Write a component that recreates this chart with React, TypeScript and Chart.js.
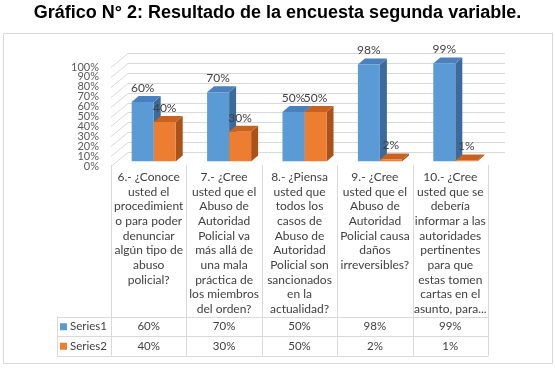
import React, { useEffect, useRef } from "react";
import { Chart, registerables } from "chart.js";

Chart.register(...registerables);

// Survey questions, already broken into the lines they are printed on
const categories: string[][] = [
  ["6.- ¿Conoce", "usted el", "procedimient", "o para poder", "denunciar", "algún tipo de", "abuso", "policial?"],
  ["7.- ¿Cree", "usted que el", "Abuso de", "Autoridad", "Policial va", "más allá de", "una mala", "práctica de", "los miembros", "del orden?"],
  ["8.- ¿Piensa", "usted que", "todos los", "casos de", "Abuso de", "Autoridad", "Policial son", "sancionados", "en la", "actualidad?"],
  ["9.- ¿Cree", "usted que el", "Abuso de", "Autoridad", "Policial causa", "daños", "irreversibles?"],
  ["10.- ¿Cree", "usted que se", "debería", "informar a las", "autoridades", "pertinentes", "para que", "estas tomen", "cartas en el", "asunto, para..."],
];

const series1: number[] = [60, 70, 50, 98, 99];
const series2: number[] = [40, 30, 50, 2, 1];
const seriesNames: string[] = ["Series1", "Series2"];
const yTicks: number[] = [0, 10, 20, 30, 40, 50, 60, 70, 80, 90, 100];

const titleText = "Gráfico N° 2: Resultado de la encuesta segunda variable.";

const FRONT = ["#5B9BD5", "#ED7D31"];
const TOP = ["#4A80BD", "#C9621F"];
const SIDE = ["#3B6A9C", "#AB521B"];

const GRID = "#D9D9D9";
const TEXT = "#404040";
const FONT = "Lato, 'Open Sans', sans-serif";

// 3D geometry: wall depth, where the bars sit inside it, and bar depth
const WALL = { dx: 17, dy: -14 };
const SHIFT = { dx: 5, dy: -4.5 };
const BAR = { dx: 7, dy: -6 };

// Table / label area
const TABLE_LEFT = 57;
const TABLE_TOP = 316.5;
const ROW_H = 19.5;
const CAT_TEXT_TOP = 177;
const CAT_LINE_H = 14.7;

function pct(v: number) {
  return `${v}%`;
}

const bar3d = {
  id: "bar3d",
  beforeDraw(chart: any) {
    const { ctx } = chart;
    ctx.save();
    ctx.fillStyle = "#FFFFFF";
    ctx.fillRect(0, 0, chart.width, chart.height);
    // title
    ctx.fillStyle = "#000000";
    ctx.font = `bold 18px 'Liberation Sans', Arial, sans-serif`;
    ctx.textAlign = "center";
    ctx.textBaseline = "middle";
    ctx.fillText(titleText, chart.width / 2, 13);
    // outer frame
    ctx.strokeStyle = GRID;
    ctx.lineWidth = 1;
    ctx.strokeRect(3.5, 33.5, 549, 330);
    ctx.restore();
  },
  beforeDatasetsDraw(chart: any) {
    const { ctx, chartArea } = chart;
    const ys = chart.scales.y;
    ctx.save();
    // wall gridlines: slanted on the left wall, horizontal on the back wall
    ctx.strokeStyle = GRID;
    ctx.lineWidth = 1;
    for (const t of yTicks) {
      const y = Math.round(ys.getPixelForValue(t)) + 0.5;
      ctx.beginPath();
      ctx.moveTo(chartArea.left, y);
      ctx.lineTo(chartArea.left + WALL.dx, y + WALL.dy);
      ctx.lineTo(chartArea.right + WALL.dx, y + WALL.dy);
      ctx.stroke();
    }
    ctx.restore();

    ctx.save();
    ctx.translate(SHIFT.dx, SHIFT.dy);
    const nCat = categories.length;
    for (let i = 0; i < nCat; i++) {
      for (let d = 0; d < chart.data.datasets.length; d++) {
        const el = chart.getDatasetMeta(d).data[i];
        const { x, y, base, width } = el.getProps(["x", "y", "base", "width"], true);
        const l = x - width / 2;
        const r = x + width / 2;
        // side face
        ctx.fillStyle = SIDE[d];
        ctx.beginPath();
        ctx.moveTo(r, y);
        ctx.lineTo(r + BAR.dx, y + BAR.dy);
        ctx.lineTo(r + BAR.dx, base + BAR.dy);
        ctx.lineTo(r, base);
        ctx.closePath();
        ctx.fill();
        // top face
        ctx.fillStyle = TOP[d];
        ctx.beginPath();
        ctx.moveTo(l, y);
        ctx.lineTo(l + BAR.dx, y + BAR.dy);
        ctx.lineTo(r + BAR.dx, y + BAR.dy);
        ctx.lineTo(r, y);
        ctx.closePath();
        ctx.fill();
      }
    }
  },
  afterDatasetsDraw(chart: any) {
    const { ctx, chartArea } = chart;
    ctx.restore();
    const ys = chart.scales.y;
    const xs = chart.scales.x;

    ctx.save();
    // value labels above the bars
    ctx.fillStyle = TEXT;
    ctx.font = `12px ${FONT}`;
    ctx.textAlign = "center";
    ctx.textBaseline = "middle";
    chart.data.datasets.forEach((ds: any, d: number) => {
      chart.getDatasetMeta(d).data.forEach((el: any, i: number) => {
        const { x, y } = el.getProps(["x", "y"], true);
        ctx.fillText(pct(ds.data[i]), x + SHIFT.dx, y + SHIFT.dy - 14);
      });
    });

    // y axis labels
    ctx.fillStyle = "#595959";
    ctx.font = `11px ${FONT}`;
    ctx.textAlign = "right";
    for (const t of yTicks) {
      ctx.fillText(pct(t), 99, ys.getPixelForValue(t));
    }

    // category columns + data table
    const step = xs.getPixelForValue(1) - xs.getPixelForValue(0);
    const bounds: number[] = [];
    for (let i = 0; i <= categories.length; i++) {
      bounds.push(Math.round(xs.getPixelForValue(0) - step / 2 + i * step) + 0.5);
    }
    const tableBottom = TABLE_TOP + ROW_H * 2;
    ctx.strokeStyle = GRID;
    ctx.lineWidth = 1;
    ctx.beginPath();
    for (const b of bounds) {
      ctx.moveTo(b, chartArea.bottom - 1);
      ctx.lineTo(b, tableBottom);
    }
    for (let r = 0; r <= 2; r++) {
      const y = Math.round(TABLE_TOP + r * ROW_H) + 0.5;
      ctx.moveTo(TABLE_LEFT + 0.5, y);
      ctx.lineTo(bounds[bounds.length - 1], y);
    }
    ctx.moveTo(TABLE_LEFT + 0.5, TABLE_TOP);
    ctx.lineTo(TABLE_LEFT + 0.5, tableBottom);
    ctx.stroke();

    ctx.fillStyle = TEXT;
    ctx.font = `12px ${FONT}`;
    ctx.textAlign = "center";
    categories.forEach((lines, i) => {
      const cx = xs.getPixelForValue(i);
      lines.forEach((ln, k) => {
        ctx.fillText(ln, cx, CAT_TEXT_TOP + k * CAT_LINE_H);
      });
    });

    ctx.font = `11.5px ${FONT}`;
    chart.data.datasets.forEach((ds: any, d: number) => {
      const cy = TABLE_TOP + ROW_H * d + ROW_H / 2 + 0.5;
      ctx.fillStyle = FRONT[d];
      ctx.fillRect(60, cy - 3.5, 7, 7);
      ctx.fillStyle = TEXT;
      ctx.textAlign = "left";
      ctx.fillText(seriesNames[d], 70, cy);
      ctx.textAlign = "center";
      ds.data.forEach((v: number, i: number) => {
        ctx.fillText(pct(v), xs.getPixelForValue(i), cy);
      });
    });
    ctx.restore();
  },
};

export default function App() {
  const canvasRef = useRef<HTMLCanvasElement | null>(null);

  useEffect(() => {
    let chart: Chart | null = null;
    let cancelled = false;
    const fontsReady = Promise.all([
      document.fonts.load("12px Lato"),
      document.fonts.load("bold 18px 'Liberation Sans'"),
    ]).catch(() => null);

    fontsReady.then(() => {
      if (cancelled || !canvasRef.current) return;
      chart = new Chart(canvasRef.current, {
        type: "bar",
        data: {
          labels: categories.map((c) => c.join(" ")),
          datasets: [
            { label: seriesNames[0], data: series1, backgroundColor: FRONT[0], borderWidth: 0 },
            { label: seriesNames[1], data: series2, backgroundColor: FRONT[1], borderWidth: 0 },
          ],
        },
        options: {
          responsive: false,
          animation: false,
          devicePixelRatio: 1,
          layout: { padding: { left: 111, right: 67, top: 67, bottom: 202 } },
          datasets: { bar: { categoryPercentage: 0.584, barPercentage: 1 } },
          scales: {
            x: { display: false, offset: true, grid: { display: false } },
            y: { display: false, min: 0, max: 100 },
          },
          plugins: { legend: { display: false }, tooltip: { enabled: false }, title: { display: false } },
        },
        plugins: [bar3d],
      });
    });

    return () => {
      cancelled = true;
      if (chart) chart.destroy();
    };
  }, []);

  return (
    <div style={{ position: "fixed", left: 0, top: 0, width: 555, height: 368, background: "#fff" }}>
      <canvas ref={canvasRef} width={555} height={368} style={{ display: "block" }} />
    </div>
  );
}
